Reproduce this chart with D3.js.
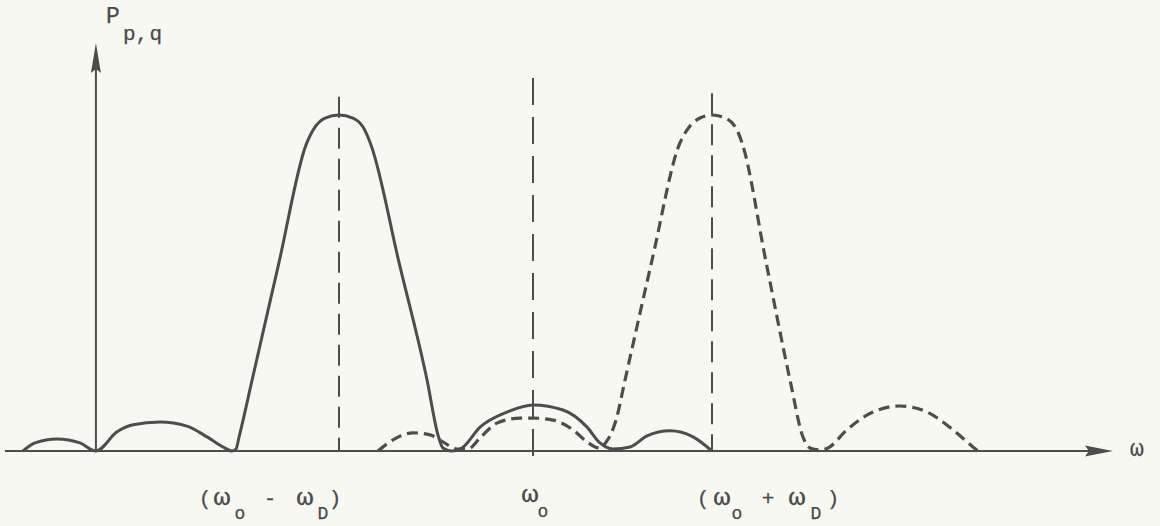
<!DOCTYPE html>
<html>
<head>
<meta charset="utf-8">
<script src="https://cdn.jsdelivr.net/npm/d3@7"></script>
<style>
  html, body { margin: 0; padding: 0; background: #f8f8f3; }
  svg { display: block; }
  text { font-family: "Liberation Mono", "DejaVu Sans Mono", monospace; fill: #4a4a4a; stroke: #4a4a4a; stroke-width: 0.25; }
</style>
</head>
<body>
<svg id="chart"></svg>
<script>
// frequency in units of omega_D, measured from omega_0; power relative to peak
const solidFreq = [
  -2.629, -2.567, -2.454, -2.335, -2.253,
  -2.144, -2.062, -1.923, -1.784, -1.680, -1.598, -1.552,
  -1.531, -1.515, -1.448, -1.309, -1.170, -1.124, -1.072, -1, -0.928, -0.876, -0.835, -0.691, -0.546, -0.490, -0.464, -0.418,
  -0.366, -0.273, -0.134, 0, 0.168, 0.302, 0.374, 0.447,
  0.542, 0.637, 0.765, 0.894, 1.0
];
const solidPower = [
  0, 0.024, 0.036, 0.024, 0,
  0.057, 0.078, 0.086, 0.074, 0.042, 0.012, 0,
  0.006, 0.042, 0.211, 0.562, 0.911, 0.964, 0.991, 1, 0.991, 0.964, 0.911, 0.562, 0.211, 0.048, 0.009, 0,
  0.009, 0.071, 0.116, 0.137, 0.122, 0.071, 0.024, 0.006,
  0.012, 0.045, 0.060, 0.042, 0
];

const dashedFreq = [
  -0.799, -0.722, -0.619, -0.531, -0.464, -0.392,
  -0.335, -0.273, -0.186, -0.067, 0, 0.112, 0.223, 0.302, 0.369,
  0.413, 0.464, 0.514, 0.665, 0.821, 0.860, 0.933, 1, 1.073, 1.140, 1.168, 1.302, 1.436, 1.508, 1.547, 1.603,
  1.648, 1.754, 1.899, 2.050, 2.201, 2.346, 2.458, 2.486
];
const dashedPower = [
  0, 0.033, 0.054, 0.048, 0.027, 0.006,
  0.006, 0.039, 0.083, 0.098, 0.098, 0.092, 0.063, 0.027, 0.009,
  0.030, 0.092, 0.211, 0.568, 0.917, 0.955, 0.991, 1, 0.991, 0.955, 0.917, 0.562, 0.211, 0.042, 0.009, 0.003,
  0.009, 0.063, 0.116, 0.134, 0.116, 0.063, 0.012, 0
];

// reference frequencies (omega_0 - omega_D, omega_0, omega_0 + omega_D)
const markerFreq = [-1, 0, 1];
const markerTop = [1.054, 1.110, 1.065];
const markerBottom = [0, -0.048, 0];

const xAxisStart = -2.722, xAxisEnd = 3.240;
const yAxisAt = -2.253, yAxisTop = 1.214;

const W = 1160, H = 526;
const ink = "#4d4d4d";

const svg = d3.select("#chart").attr("width", W).attr("height", H);

// the figure is hand drawn: spacing either side of omega_0 is not equal
const x = d3.scaleLinear().domain([-1, 0, 1]).range([339, 533, 712]);
const y = d3.scaleLinear().domain([0, 1]).range([451, 115]);

const line = d3.line()
  .x(d => x(d[0]))
  .y(d => y(d[1]))
  .curve(d3.curveMonotoneX);

// axes
const x0 = x(xAxisStart), x1 = x(xAxisEnd), y0 = y(0);
svg.append("line")
  .attr("x1", x0).attr("x2", x1 - 20).attr("y1", y0).attr("y2", y0)
  .attr("stroke", ink).attr("stroke-width", 2);
svg.append("path")
  .attr("d", `M${x1},${y0} L${x1 - 28},${y0 - 5.5} L${x1 - 24},${y0} L${x1 - 28},${y0 + 5.5} Z`)
  .attr("fill", ink);

const ya = x(yAxisAt), yt = y(yAxisTop);
svg.append("line")
  .attr("x1", ya).attr("x2", ya).attr("y1", y0).attr("y2", yt + 20)
  .attr("stroke", ink).attr("stroke-width", 2);
svg.append("path")
  .attr("d", `M${ya},${yt} L${ya - 5},${yt + 30} L${ya},${yt + 26} L${ya + 5},${yt + 30} Z`)
  .attr("fill", ink);

// vertical reference lines
svg.selectAll("line.marker")
  .data(markerFreq)
  .join("line")
  .attr("class", "marker")
  .attr("x1", d => x(d)).attr("x2", d => x(d))
  .attr("y1", (d, i) => y(markerTop[i]))
  .attr("y2", (d, i) => y(markerBottom[i]))
  .attr("stroke", ink)
  .attr("stroke-width", 2)
  .attr("stroke-dasharray", (d, i) => i === 1 ? "27,12" : "21,10");

// spectra
svg.append("path")
  .datum(d3.zip(solidFreq, solidPower))
  .attr("d", line)
  .attr("fill", "none")
  .attr("stroke", ink)
  .attr("stroke-width", 3)
  .attr("stroke-linejoin", "round");

svg.append("path")
  .datum(d3.zip(dashedFreq, dashedPower))
  .attr("d", line)
  .attr("fill", "none")
  .attr("stroke", ink)
  .attr("stroke-width", 3.2)
  .attr("stroke-dasharray", "11,6");

// labels
const labels = [
  { at: -1, base: 505, parts: [["(", -134, 0], ["ω", -117, 0], ["o", -99, 1], ["-", -69, 0], ["ω", -34, 0], ["D", -16, 1], [")", -4, 0]] },
  { at: 0, base: 502, parts: [["ω", -3, 0], ["o", 10, 1]] },
  { at: 1, base: 505, parts: [["(", -9, 0], ["ω", 10, 0], ["o", 25, 1], ["+", 56, 0], ["ω", 85, 0], ["D", 104, 1], [")", 121, 0]] }
];

labels.forEach(l => {
  l.parts.forEach(([t, dx, sub]) => {
    const tx = svg.append("text")
      .attr("x", x(l.at) + dx)
      .attr("y", sub ? Math.min(l.base + 15, 519) : l.base)
      .attr("text-anchor", "middle")
      .attr("font-size", t === "ω" ? 23 : (sub ? 18 : 21))
      .text(t);
    if (t === "ω") tx.attr("textLength", 17).attr("lengthAdjust", "spacingAndGlyphs");
  });
});

svg.append("text")
  .attr("x", ya + 17).attr("y", 23)
  .attr("text-anchor", "middle")
  .attr("font-size", 23)
  .text("P");
svg.append("text")
  .attr("x", ya + 27).attr("y", 40)
  .attr("font-size", 21)
  .text("p,");
svg.append("text")
  .attr("x", ya + 60).attr("y", 40)
  .attr("text-anchor", "middle")
  .attr("font-size", 21)
  .text("q");

svg.append("text")
  .attr("x", x1 + 24).attr("y", y0 + 5)
  .attr("text-anchor", "middle")
  .attr("font-size", 23)
  .text("ω");
</script>
</body>
</html>
